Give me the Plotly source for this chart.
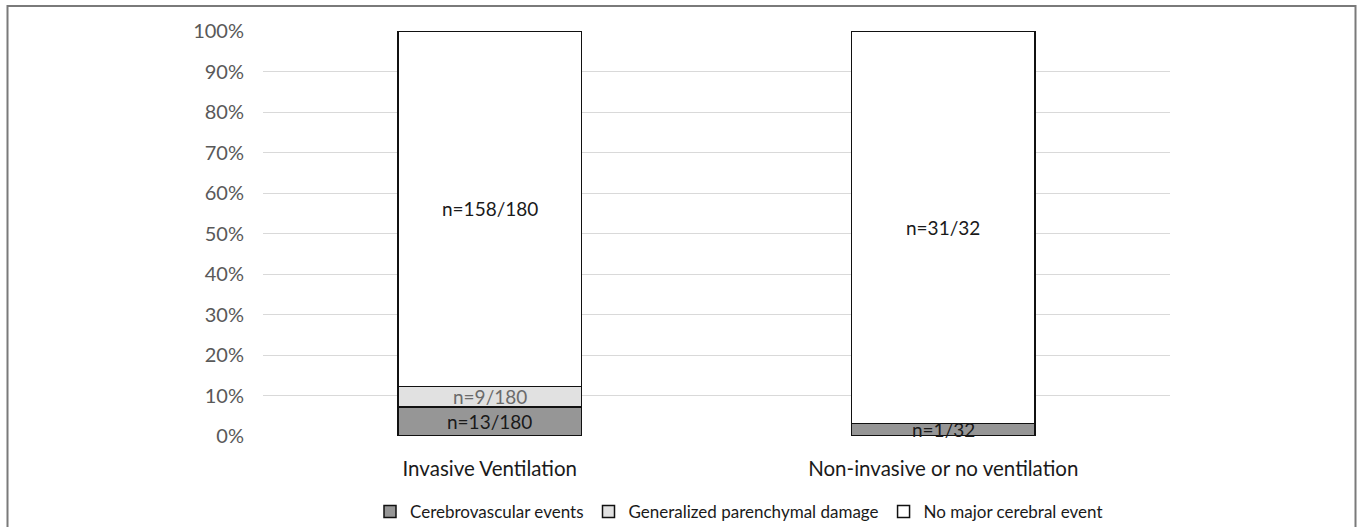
import plotly.graph_objects as go

categories = ["Invasive Ventilation", "Non-invasive or no ventilation"]
totals = [180, 32]
series_names = ["Cerebrovascular events", "Generalized parenchymal damage", "No major cerebral event"]
counts = {
    "Cerebrovascular events": [13, 1],
    "Generalized parenchymal damage": [9, 0],
    "No major cerebral event": [158, 31],
}
y_ticks = [0, 10, 20, 30, 40, 50, 60, 70, 80, 90, 100]
y_tick_labels = [f"{v}%" for v in y_ticks]

colors = {
    "Cerebrovascular events": "#969696",
    "Generalized parenchymal damage": "#e1e1e1",
    "No major cerebral event": "#ffffff",
}
label_colors = {
    "Cerebrovascular events": "#1a1a1a",
    "Generalized parenchymal damage": "#6b6b6b",
    "No major cerebral event": "#1a1a1a",
}

FONT = "Lato, Open Sans, sans-serif"
W, H = 1360, 527
L, R, T, B = 263, 190, 31, 91
pw, ph = W - L - R, H - T - B

fig = go.Figure()
annotations = []
base = [0.0, 0.0]
for name in series_names:
    pct = [c / t * 100 for c, t in zip(counts[name], totals)]
    fig.add_trace(go.Bar(
        x=categories, y=pct, name=name, width=0.404,
        marker=dict(color=colors[name], line=dict(color="#111111", width=1.5)),
        hoverinfo="skip",
    ))
    for i, (c, t, p) in enumerate(zip(counts[name], totals, pct)):
        if c > 0:
            annotations.append(dict(
                x=categories[i], y=base[i] + p / 2, xref="x", yref="y",
                text=f"n={c}/{t}", showarrow=False,
                font=dict(family=FONT, size=19, color=label_colors[name]),
            ))
        base[i] += p

def px2x(px):
    return (px - L) / pw

def py2y(py):
    return (H - B - py) / ph

# outer chart border (bottom edge is cropped in the reference)
fig.add_shape(type="rect", xref="paper", yref="paper",
              x0=px2x(7.5), x1=px2x(1355.5), y0=py2y(540), y1=py2y(6),
              line=dict(color="#7a7a7a", width=2), fillcolor="rgba(0,0,0,0)", layer="below")

fig.update_layout(
    width=W, height=H,
    margin=dict(l=L, r=R, t=T, b=B, autoexpand=False),
    barmode="stack",
    plot_bgcolor="white", paper_bgcolor="white",
    font=dict(family=FONT, size=18, color="#595959"),
    annotations=annotations,
    showlegend=True,
    legend=dict(orientation="h", x=px2x(739), xanchor="center",
                yref="container", y=(H - 512) / H, yanchor="middle",
                font=dict(family=FONT, size=17, color="#1a1a1a"),
                itemwidth=30, traceorder="normal", itemclick=False,
                tracegroupgap=0, borderwidth=0),
    xaxis=dict(showgrid=False, showline=False, zeroline=False, ticks="", automargin=False,
               tickfont=dict(family=FONT, size=20.5, color="#1a1a1a"), ticklabelstandoff=18),
    yaxis=dict(range=[0, 100], tickmode="array", tickvals=y_ticks, ticktext=y_tick_labels,
               automargin=False,
               showgrid=True, gridcolor="#d9d9d9", gridwidth=1.3, zeroline=False, showline=False,
               tickfont=dict(family=FONT, size=20, color="#595959"), ticklabelstandoff=18),
)

fig.write_html("out.html")
